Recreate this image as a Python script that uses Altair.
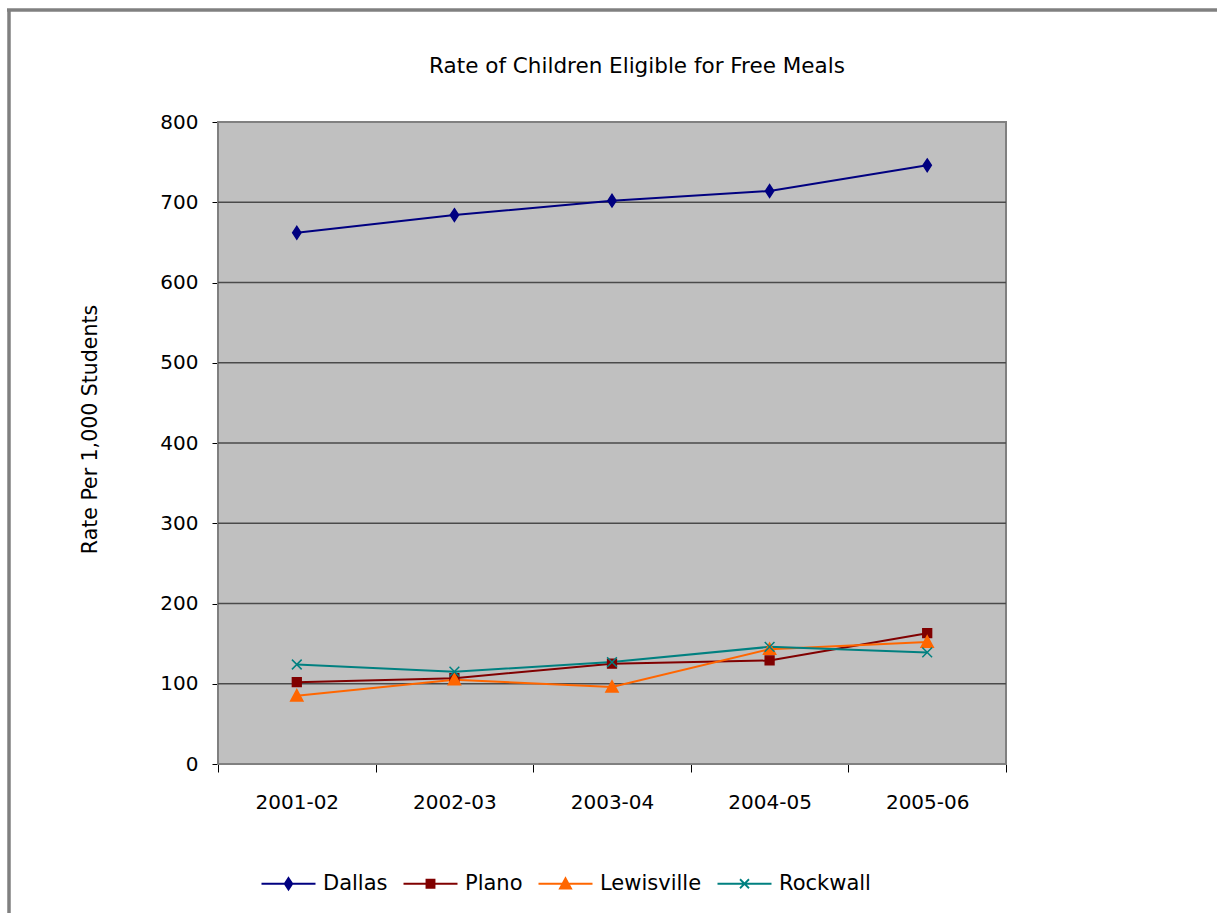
import altair as alt
import pandas as pd

# ---- data ----
years = ["2001-02", "2002-03", "2003-04", "2004-05", "2005-06"]
cities = ["Dallas", "Plano", "Lewisville", "Rockwall"]
dallas = [662, 684, 702, 714, 746]
plano = [102, 107, 125, 129, 163]
lewisville = [85, 105, 96, 143, 152]
rockwall = [124, 115, 127, 146, 139]
y_ticks = [0, 100, 200, 300, 400, 500, 600, 700, 800]
title_text = "Rate of Children Eligible for Free Meals"
y_title = "Rate Per 1,000 Students"

colors = ["#000080", "#800000", "#FF6600", "#008080"]

series = {"Dallas": dallas, "Plano": plano, "Lewisville": lewisville, "Rockwall": rockwall}
rows = []
for c in cities:
    for i, v in enumerate(series[c]):
        rows.append({"city": c, "idx": i, "year": years[i], "value": v})
df = pd.DataFrame(rows)
grid_df = pd.DataFrame({"g": y_ticks[1:-1]})

FONT = "DejaVu Sans"
W, H = 788, 642

# marker paths (unit = sqrt(size)/2)
marker_paths = [
    "M0,-1.3L0.85,0L0,1.3L-0.85,0Z",
    "M-0.9,-0.9H0.9V0.9H-0.9Z",
    "M0,-1.25L1.25,1.05L-1.25,1.05Z",
    "M-1,-1L1,1M-1,1L1,-1",
]
legend_paths = ["M-6,0H6" + p for p in marker_paths]

n = len(years)
label_expr = "[" + ",".join("'%s'" % y for y in years) + "][round(datum.value)]"
xscale = alt.Scale(domain=[-0.5, n - 0.5], nice=False, zero=False)
yscale = alt.Scale(domain=[0, 800], nice=False)

def cscale():
    return alt.Scale(domain=cities, range=colors)

yaxis = alt.Axis(values=y_ticks, title=y_title, grid=False,
                 domainColor="black", tickColor="black",
                 tickSize=6, labelPadding=14, labelFontSize=20, labelFont=FONT,
                 labelColor="black", titleFont=FONT, titleFontSize=20.5, titleFontWeight="normal",
                 titleColor="black", titleX=-128, titleY=307, titleBaseline="middle")

xaxis_ticks = alt.Axis(orient="bottom", values=[i - 0.5 for i in range(n + 1)], labels=False,
                       ticks=True, tickSize=8, tickColor="black", domainColor="black",
                       grid=False, title=None)
xaxis_labels = alt.Axis(orient="bottom", values=list(range(n)), labelExpr=label_expr, ticks=False,
                        domain=True, domainColor="black", grid=False, title=None, labelPadding=28,
                        labelFontSize=20, labelFont=FONT, labelColor="black")

one = pd.DataFrame({"k": [0]})

plot_bg = alt.Chart(one).mark_rect(color="#C0C0C0", stroke="#808080", strokeWidth=2).encode(
    x=alt.value(0), x2=alt.value(W), y=alt.value(0), y2=alt.value(H))

gridlines = alt.Chart(grid_df).mark_rule(color="#4a4a4a", strokeWidth=1.3).encode(
    y=alt.Y("g:Q", scale=yscale, axis=yaxis))

base = alt.Chart(df)

lines = base.mark_line(strokeWidth=2).encode(
    x=alt.X("idx:Q", scale=xscale, axis=xaxis_ticks),
    y=alt.Y("value:Q", scale=yscale, axis=yaxis),
    color=alt.Color("city:N", scale=cscale(), legend=None),
    detail="city:N",
)

points = base.mark_point(filled=True, size=95, strokeWidth=1.5, opacity=1).encode(
    x=alt.X("idx:Q", scale=xscale, axis=xaxis_labels),
    y=alt.Y("value:Q", scale=yscale, axis=yaxis),
    fill=alt.Fill("city:N", scale=cscale(), legend=None),
    stroke=alt.Stroke("city:N", scale=cscale(), legend=None),
    shape=alt.Shape("city:N", scale=alt.Scale(domain=cities, range=marker_paths), legend=None),
)

leg = alt.Legend(title=None, orient="none", direction="horizontal", legendX=38, legendY=751,
                 labelFont=FONT, labelFontSize=21, labelColor="black", symbolSize=81,
                 symbolStrokeWidth=1.8, symbolOffset=22, labelOffset=24, columnPadding=10)

legend_layer = base.mark_point(filled=True, opacity=1).encode(
    fill=alt.Fill("city:N", scale=cscale(), legend=leg),
    stroke=alt.Stroke("city:N", scale=cscale(), legend=leg),
    shape=alt.Shape("city:N", scale=alt.Scale(domain=cities, range=legend_paths), legend=leg),
).transform_filter("false")

title_mark = alt.Chart(one).mark_text(font=FONT, fontSize=21.5, color="black",
                                      align="center", baseline="alphabetic").encode(
    x=alt.value(W / 2 + 25), y=alt.value(-49), text=alt.value(title_text))

frame_v = alt.Chart(one).mark_rule(color="#808080", strokeWidth=3.5).encode(
    x=alt.value(-209), y=alt.value(-112), y2=alt.value(791))
frame_h = alt.Chart(one).mark_rule(color="#808080", strokeWidth=3.5).encode(
    x=alt.value(-211), x2=alt.value(999), y=alt.value(-112))

chart = alt.layer(plot_bg, gridlines, lines, points, legend_layer, title_mark, frame_v, frame_h).resolve_scale(
    shape="independent", fill="independent", stroke="independent"
).resolve_axis(x="independent").properties(
    width=W, height=H,
    background="white",
    autosize=alt.AutoSizeParams(type="none"),
    padding={"left": 218, "top": 122, "right": 211, "bottom": 149},
).configure_view(stroke=None)

chart.save("out.html", embed_options={"renderer": "svg", "actions": False})
